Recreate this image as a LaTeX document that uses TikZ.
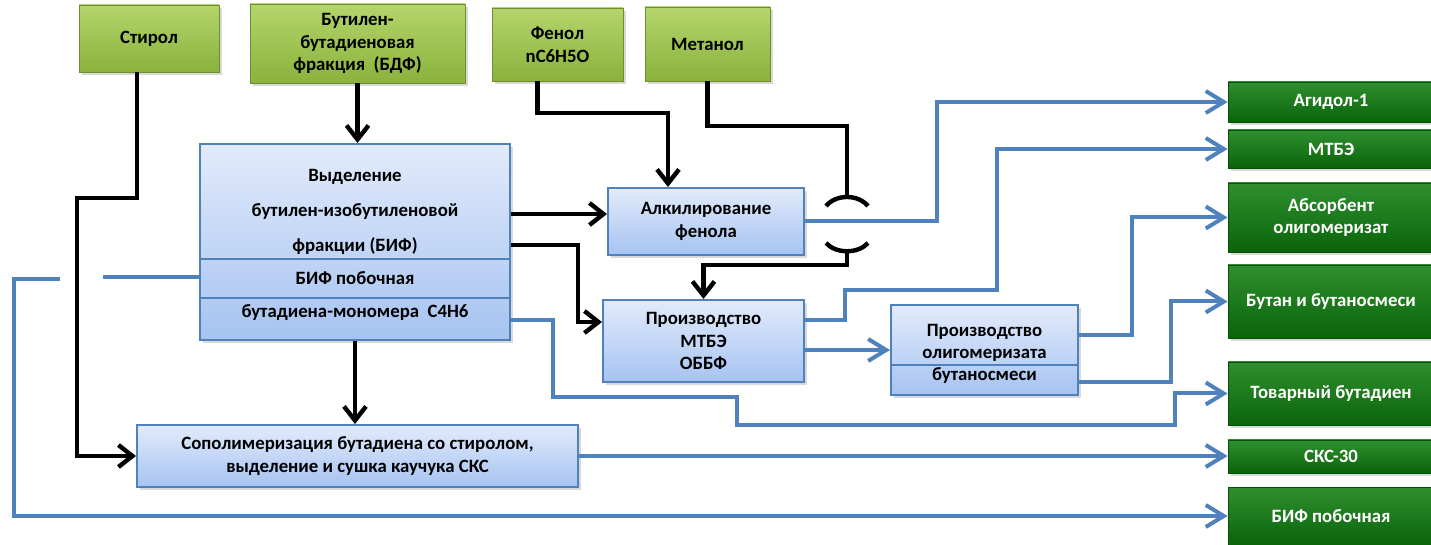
\documentclass[tikz,border=0pt]{standalone}
\usepackage{fontspec}
\setmainfont{Carlito}
\usetikzlibrary{arrows.meta, shadows}

\definecolor{lblue}{HTML}{4F81BD}
\definecolor{topgreen}{HTML}{B4D56C}
\definecolor{botgreen}{HTML}{8AB23C}
\definecolor{topdark}{HTML}{2F8F2F}
\definecolor{botdark}{HTML}{0A640A}
\definecolor{topblue}{HTML}{E2EBFB}
\definecolor{botblue}{HTML}{A6C3F1}

\tikzset{
  shad/.style={drop shadow={shadow xshift=1.5pt, shadow yshift=-1.5pt, opacity=0.3}},
  txt/.style={font=\bfseries\fontsize{9.4}{11.3}\selectfont, align=center, inner sep=0pt},
  srcbox/.style={shad, txt, draw=botgreen!80!black, line width=0.4pt, top color=topgreen, bottom color=botgreen},
  prodbox/.style={shad, txt, draw=botdark!80!black, line width=0.4pt, top color=topdark, bottom color=botdark, text=white, minimum width=103pt},
  stepbox/.style={shad, txt, draw=lblue, line width=1pt, top color=topblue, bottom color=botblue},
  blk/.style={line width=2.2pt, >={Straight Barb[length=7pt,width=11pt]}},
  bl/.style={draw=lblue, line width=2pt, >={Straight Barb[length=9pt,width=11pt]}},
}

\begin{document}
\begin{tikzpicture}[x=0.5pt, y=-0.5pt]
\useasboundingbox (0,0) rectangle (1431,545);

\node[srcbox, minimum width=70pt, minimum height=33.5pt] (styr) at (149,38.5) {Стирол};
\node[srcbox, minimum width=107.5pt, minimum height=39.5pt] (bdf) at (357.5,43.5) {Бутилен-\\бутадиеновая\\фракция~~(БДФ)};
\node[srcbox, minimum width=65.5pt, minimum height=36.5pt] (phen) at (557.5,44.5) {Фенол\\nC6H5O};
\node[srcbox, minimum width=62.5pt, minimum height=37pt] (meth) at (707.5,44) {Метанол};

\node[stepbox, minimum width=155pt, minimum height=98pt] (vyd) at (355,242) {};
\draw[lblue, line width=1pt] (vyd.west |- 0,259) -- (vyd.east |- 0,259);
\draw[lblue, line width=1pt] (vyd.west |- 0,298) -- (vyd.east |- 0,298);
\node[txt, font=\bfseries\fontsize{9.4}{17.5}\selectfont] (vydtop) at (355,212) {Выделение\\бутилен-изобутиленовой\\фракции (БИФ)};
\node[txt] (vydbif) at (355,278) {БИФ побочная};
\node[txt] (vydbd) at (355,313) {бутадиена-мономера~~С4Н6};

\node[stepbox, minimum width=98pt, minimum height=33.5pt] (alk) at (706,221.5) {Алкилирование\\фенола};
\node[stepbox, minimum width=100.5pt, minimum height=41pt] (mtbe) at (703.5,341) {Производство\\МТБЭ\\ОББФ};
\node[stepbox, minimum width=93.5pt, minimum height=45pt] (olig) at (984.5,350) {};
\draw[lblue, line width=1pt] (olig.west |- 0,365) -- (olig.east |- 0,365);
\node[txt, font=\bfseries\fontsize{9.4}{10.9}\selectfont] (oligtxt) at (984.5,354) {Производство\\олигомеризата\\бутаносмеси};
\node[stepbox, minimum width=220.5pt, minimum height=31pt] (sks) at (357.5,456) {Сополимеризация бутадиена со стиролом,\\выделение и сушка каучука СКС};

\node[prodbox, minimum height=20pt] (agid) at (1331,102) {Агидол-1};
\node[prodbox, minimum height=19pt] (mtbp) at (1331,149) {МТБЭ};
\node[prodbox, minimum height=34.5pt] (abs) at (1331,217.5) {Абсорбент\\олигомеризат};
\node[prodbox, minimum height=36.5pt] (but) at (1331,301.5) {Бутан и бутаносмеси};
\node[prodbox, minimum height=31.5pt] (tov) at (1331,393.5) {Товарный бутадиен};
\node[prodbox, minimum height=16.5pt] (sksp) at (1331,456.5) {СКС-30};
\node[prodbox, minimum height=29pt] (bifp) at (1331,516) {БИФ побочная};

\coordinate (hopA) at (847,197);
\coordinate (hopB) at (847,250);

\draw[blk,->] ([xshift=-6pt]styr.south) |- (77,198) |- (sks.west);
\draw[blk,->] (bdf.south) -- (bdf.south |- vyd.north);
\draw[blk,->] (vyd.east |- 0,214) -- (alk.west |- 0,214);
\draw[blk,->] (vyd.east |- 0,245) -| (578,322) -- (mtbe.west |- 0,322);
\draw[blk,->] ([xshift=-10pt]phen.south) |- (668,113) -- (668,0 |- alk.north);
\draw[blk] (meth.south) |- (847,126) -- (hopA);
\draw[blk] (826,206) .. controls (836,194) and (858,194) .. (868,206);
\draw[blk] (826,243) .. controls (836,254) and (858,254) .. (868,243);
\draw[blk,->] (hopB) |- (mtbe.north |- 0,265) -- (mtbe.north);
\draw[blk,->] (vyd.south) -- (vyd.south |- sks.north);

\draw[bl,->] (alk.east) -| (937,0 |- agid.west) -- (agid.west);
\draw[bl,->] (mtbe.east |- 0,320) -| (845,290) -| (997,0 |- mtbp.west) -- (mtbp.west);
\draw[bl,->] (mtbe.east |- olig.west) -- (olig.west);
\draw[bl,->] (olig.east |- 0,335) -| (1132,0 |- abs.west) -- (abs.west);
\draw[bl,->] (olig.east |- 0,382) -| (1171,0 |- but.west) -- (but.west);
\draw[bl,->] (vyd.east |- 0,320) -| (553,397) -| (737,425) -| (1175,0 |- tov.west) -- (tov.west);
\draw[bl,->] (sks.east) -- (sks.east -| sksp.west);
\draw[bl,->] (vyd.west |- 0,277) -- (103,277) (60,279) -| (14,0 |- bifp.west) -- (bifp.west);
\end{tikzpicture}
\end{document}
